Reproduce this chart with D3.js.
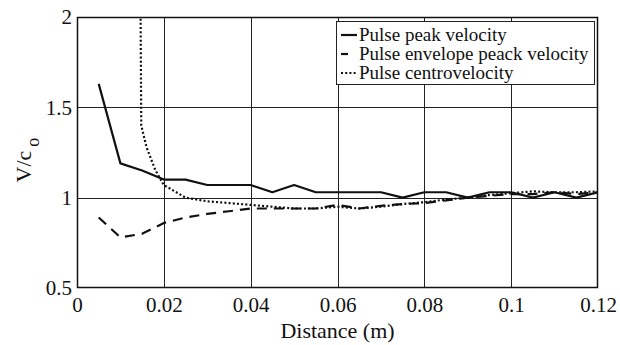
<!DOCTYPE html>
<html>
<head>
<meta charset="utf-8">
<script src="https://cdn.jsdelivr.net/npm/d3@7"></script>
<style>
  html, body { margin: 0; padding: 0; background: #fff; }
  svg { display: block; }
</style>
</head>
<body>
<svg id="chart" width="620" height="345"></svg>
<script>
// ---- data ----
const xDist = [0.005,0.010,0.015,0.020,0.025,0.030,0.035,0.040,0.045,0.050,0.055,0.060,
               0.065,0.070,0.075,0.080,0.085,0.090,0.095,0.100,0.105,0.110,0.115,0.120];
const peakVelocity = [1.63,1.19,1.15,1.10,1.10,1.07,1.07,1.07,1.03,1.07,1.03,1.03,
                      1.03,1.03,1.00,1.03,1.03,1.00,1.03,1.03,1.00,1.03,1.00,1.03];
const envelopeVelocity = [0.89,0.78,0.80,0.86,0.89,0.91,0.925,0.94,0.94,0.94,0.94,0.96,
                          0.94,0.955,0.965,0.97,0.985,1.00,1.01,1.02,1.02,1.03,1.02,1.03];
const xCentro = [0.0146,0.0148,0.016,0.018,0.020,0.0225,0.025,0.030,0.035,0.040,0.045,0.050,0.055,
                 0.060,0.065,0.070,0.075,0.080,0.085,0.090,0.095,0.100,0.105,0.110,0.115,0.120];
const centroVelocity = [2.2,1.40,1.28,1.155,1.07,1.035,1.00,0.98,0.97,0.96,0.95,0.94,0.94,
                        0.95,0.94,0.95,0.965,0.975,0.99,1.00,1.015,1.025,1.035,1.03,1.03,1.035];
const xTicks = [0, 0.02, 0.04, 0.06, 0.08, 0.1, 0.12];
const xTickLabels = ["0","0.02","0.04","0.06","0.08","0.1","0.12"];
const yTicks = [0.5, 1, 1.5, 2];
const yTickLabels = ["0.5","1","1.5","2"];
const seriesNames = ["Pulse peak velocity","Pulse envelope peack velocity","Pulse centrovelocity"];
const xLabel = "Distance (m)";

const FONT = "'Liberation Serif', 'Times New Roman', 'DejaVu Serif', serif";

// ---- layout ----
const L = 77, R = 598, T = 17, B = 288;
const svg = d3.select("#chart");
const x = d3.scaleLinear().domain([0, 0.12]).range([L, R]);
const y = d3.scaleLinear().domain([0.5, 2]).range([B, T]);

svg.append("defs").append("clipPath").attr("id","clip")
  .append("rect").attr("x", L).attr("y", T).attr("width", R - L).attr("height", B - T);

// grid
const grid = svg.append("g").attr("stroke", "#222").attr("stroke-width", 1);
grid.selectAll("line.gx").data(xTicks.slice(1, -1)).join("line")
  .attr("x1", d => Math.round(x(d)) + 0.5).attr("x2", d => Math.round(x(d)) + 0.5)
  .attr("y1", T).attr("y2", B);
grid.selectAll("line.gy").data(yTicks.slice(1, -1)).join("line")
  .attr("y1", d => Math.round(y(d)) + 0.5).attr("y2", d => Math.round(y(d)) + 0.5)
  .attr("x1", L).attr("x2", R);

// axes (labels only)
const xAxis = d3.axisBottom(x).tickValues(xTicks).tickSize(0).tickPadding(9)
  .tickFormat((d, i) => xTickLabels[i]);
const gx = svg.append("g").attr("transform", `translate(0,${B})`).call(xAxis);
gx.select(".domain").remove();
gx.attr("font-family", null);
gx.selectAll("text").style("font-family", FONT).style("font-size", "21px").attr("fill", "#111");

const yAxis = d3.axisLeft(y).tickValues(yTicks).tickSize(0).tickPadding(5)
  .tickFormat((d, i) => yTickLabels[i]);
const gy = svg.append("g").attr("transform", `translate(${L},0)`).call(yAxis);
gy.select(".domain").remove();
gy.attr("font-family", null);
gy.selectAll("text").style("font-family", FONT).style("font-size", "21px").attr("fill", "#111");

// frame
svg.append("rect").attr("x", L + 0.5).attr("y", T + 0.5).attr("width", R - L - 1).attr("height", B - T - 1)
  .attr("fill", "none").attr("stroke", "#111").attr("stroke-width", 1.5);

// lines
const line = d3.line().x(d => x(d[0])).y(d => y(d[1]));
const plot = svg.append("g").attr("clip-path", "url(#clip)").attr("fill", "none").attr("stroke", "#111");
plot.append("path").datum(xDist.map((d, i) => [d, peakVelocity[i]]))
  .attr("d", line).attr("stroke-width", 2.2).attr("stroke-linejoin", "round");
plot.append("path").datum(xDist.map((d, i) => [d, envelopeVelocity[i]]))
  .attr("d", line).attr("stroke-width", 2.2).attr("stroke-dasharray", "10,7");
plot.append("path").datum(xCentro.map((d, i) => [d, centroVelocity[i]]))
  .attr("d", line).attr("stroke-width", 2.2).attr("stroke-dasharray", "2,2.2");

// axis titles
svg.append("text").attr("x", (L + R) / 2).attr("y", 338).attr("text-anchor", "middle")
  .style("font-family", FONT).style("font-size", "22px").attr("fill", "#111").text(xLabel);
const yt = svg.append("text").attr("transform", "translate(31,160) rotate(-90)")
  .attr("text-anchor", "middle").style("font-family", FONT).style("font-size", "22px").attr("fill", "#111");
yt.append("tspan").text("V/c");
yt.append("tspan").attr("dx", 4).attr("dy", 8).style("font-size", "18px").text("o");

// legend
const lg = svg.append("g");
lg.append("rect").attr("x", 336.5).attr("y", 21.5).attr("width", 258).attr("height", 63)
  .attr("fill", "#fff").attr("stroke", "#222").attr("stroke-width", 1);
const dashes = [null, "7,100", "2,2.2"];
seriesNames.forEach((name, i) => {
  const cy = 35 + i * 19;
  lg.append("line").attr("x1", 341).attr("x2", 357).attr("y1", cy).attr("y2", cy)
    .attr("stroke", "#111").attr("stroke-width", 2.2)
    .attr("stroke-dasharray", dashes[i]);
  lg.append("text").attr("x", 359).attr("y", cy).attr("dy", "0.33em")
    .style("font-family", FONT).style("font-size", "19px").attr("fill", "#111").text(name);
});
</script>
</body>
</html>
